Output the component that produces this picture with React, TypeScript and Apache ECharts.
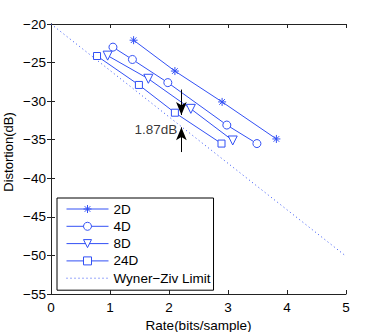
import React, { useEffect, useRef } from "react";
import * as echarts from "echarts";

const seriesNames = ["2D", "4D", "8D", "24D"];
const data2D: number[][] = [[1.4, -22.1], [2.1, -26.1], [2.9, -30.1], [3.82, -34.9]];
const data4D: number[][] = [[1.05, -23.0], [1.38, -24.6], [1.98, -27.6], [2.98, -33.1], [3.49, -35.5]];
const data8D: number[][] = [[0.96, -24.1], [1.65, -27.1], [2.37, -31.0], [3.08, -35.1]];
const data24D: number[][] = [[0.78, -24.15], [1.49, -27.9], [2.1, -31.5], [2.89, -35.5]];
const wynerZiv: number[][] = [[0, -20], [5, -50.1]];
const limitName = "Wyner\u2212Ziv Limit";
const xName = "Rate(bits/sample)";
const yName = "Distortion(dB)";
const gapLabel = "1.87dB";
const gapLabelPos: number[] = [2.15, -33.7];
const arrowDown: number[][] = [[2.21, -28.5], [2.21, -31.8]];
const arrowUp: number[][] = [[2.21, -36.6], [2.21, -33.4]];

const BLUE = "#3250f5";
const FONT = "Liberation Sans";
const FS = 13.5;
const star = "path://M5,0 L5,10 M0,5 L10,5 M1.5,1.5 L8.5,8.5 M1.5,8.5 L8.5,1.5";

export default function App() {
  const ref = useRef<HTMLDivElement>(null);
  useEffect(() => {
    const chart = echarts.init(ref.current!, null, { renderer: "svg" });
    const minus = (v: number) => String(v).replace("-", "\u2212");
    const axisLineStyle = { color: "#222", width: 1 };
    const lineSeries = (name: string, data: number[][], symbol: string, size: number, rotate = 0) => ({
      name,
      type: "line",
      data,
      symbol,
      symbolSize: size,
      symbolRotate: rotate,
      showSymbol: true,
      lineStyle: { color: BLUE, width: 1 },
      itemStyle: { color: symbol === star ? "transparent" : "#fff", borderColor: BLUE, borderWidth: 1 },
      z: 3,
    });
    chart.setOption({
      animation: false,
      textStyle: { fontFamily: FONT },
      grid: { left: 51, right: 36, top: 24, bottom: 38, outerBoundsMode: "none", containLabel: false },
      graphic: [
        {
          type: "text",
          x: 8.5,
          y: 152,
          rotation: Math.PI / 2,
          style: {
            text: yName,
            fontSize: 13,
            fontFamily: FONT,
            fill: "#000",
            align: "center",
            verticalAlign: "middle",
          },
        },
      ],
      xAxis: [
        {
          type: "value",
          min: 0,
          max: 5,
          interval: 1,
          name: xName,
          nameLocation: "middle",
          nameGap: 17,
          nameTextStyle: { fontSize: FS, color: "#000", fontFamily: FONT },
          axisLine: { lineStyle: axisLineStyle },
          axisTick: { inside: true, length: 4, lineStyle: axisLineStyle },
          axisLabel: { fontSize: FS, color: "#000", margin: 6, fontFamily: FONT },
          splitLine: { show: false },
        },
        {
          type: "value",
          position: "top",
          min: 0,
          max: 5,
          interval: 1,
          axisLine: { show: true, lineStyle: axisLineStyle },
          axisTick: { inside: true, length: 4, lineStyle: axisLineStyle },
          axisLabel: { show: false },
          splitLine: { show: false },
        },
      ],
      yAxis: [
        {
          type: "value",
          min: -55,
          max: -20,
          interval: 5,
          axisLine: { show: true, lineStyle: axisLineStyle },
          axisTick: { show: true, inside: true, length: 4, lineStyle: axisLineStyle },
          axisLabel: { fontSize: FS, color: "#000", margin: 5, fontFamily: FONT, formatter: minus },
          splitLine: { show: false },
        },
        {
          type: "value",
          position: "right",
          min: -55,
          max: -20,
          interval: 5,
          axisLine: { show: true, lineStyle: axisLineStyle },
          axisTick: { show: true, inside: true, length: 4, lineStyle: axisLineStyle },
          axisLabel: { show: false },
          splitLine: { show: false },
        },
      ],
      legend: {
        orient: "vertical",
        left: 57,
        top: 198,
        padding: [4, 3, 5, 9],
        itemWidth: 42,
        itemHeight: 10,
        itemGap: 3.3,
        backgroundColor: "#fff",
        borderColor: "#000",
        borderWidth: 1,
        borderRadius: 0,
        lineStyle: { width: 1 },
        itemStyle: { borderWidth: 1 },
        textStyle: { fontSize: FS, lineHeight: 10, color: "#000", fontFamily: FONT },
        data: [
          ...seriesNames,
          { name: limitName, itemStyle: { color: "transparent", borderWidth: 0, opacity: 0 } },
        ],
      },
      series: [
        lineSeries(seriesNames[0], data2D, star, 8),
        lineSeries(seriesNames[1], data4D, "circle", 8),
        lineSeries(seriesNames[2], data8D, "triangle", 9, 180),
        lineSeries(seriesNames[3], data24D, "rect", 7),
        {
          name: limitName,
          type: "line",
          data: wynerZiv,
          symbol: "none",
          lineStyle: { color: BLUE, width: 1, type: [1, 3] },
          itemStyle: { color: BLUE },
          z: 2,
        },
        {
          name: "annotation",
          type: "scatter",
          data: [gapLabelPos],
          symbolSize: 1,
          itemStyle: { color: "transparent" },
          label: {
            show: true,
            position: "left",
            distance: 0,
            formatter: gapLabel,
            fontSize: FS,
            color: "#000",
            fontFamily: FONT,
          },
          markLine: {
            silent: true,
            symbol: ["none", "arrow"],
            symbolSize: [8, 13],
            lineStyle: { color: "#000", width: 1, type: "solid" },
            label: { show: false },
            data: [
              [{ coord: arrowDown[0] }, { coord: arrowDown[1] }],
              [{ coord: arrowUp[0] }, { coord: arrowUp[1] }],
            ],
          },
          z: 5,
        },
      ],
    });
    return () => chart.dispose();
  }, []);
  return <div ref={ref} style={{ width: 382, height: 332, position: "absolute", left: 0, top: 0, background: "#fff" }} />;
}
